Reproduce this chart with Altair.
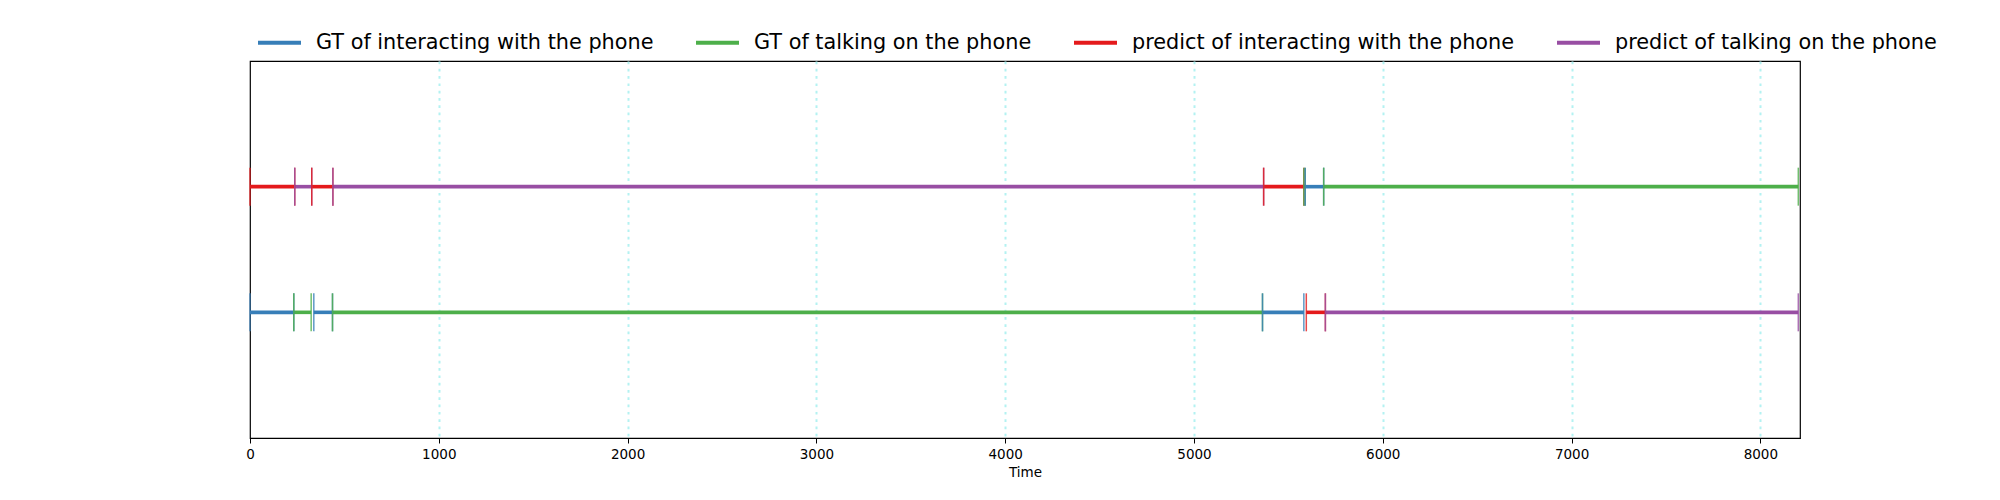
import altair as alt
import pandas as pd

labels = [
    "GT of interacting with the phone",
    "GT of talking on the phone",
    "predict of interacting with the phone",
    "predict of talking on the phone",
]
colors = ["#377eb8", "#4daf4a", "#e41a1c", "#984ea3"]

# segments: start frame, end frame, row (2 = upper, 1 = lower), label index
seg_start = [0, 237, 327, 439, 5369, 5582, 5589, 5687,
             0, 232, 338, 437, 5363, 5595, 5696]
seg_end = [237, 327, 439, 5369, 5582, 5589, 5687, 8201,
           232, 324, 437, 5363, 5582, 5696, 8201]
seg_row = [2, 2, 2, 2, 2, 2, 2, 2,
           1, 1, 1, 1, 1, 1, 1]
seg_label = [2, 3, 2, 3, 2, 1, 0, 1,
             0, 1, 0, 1, 0, 2, 3]

x_ticks = [0, 1000, 2000, 3000, 4000, 5000, 6000, 7000, 8000]
x_max = 8210

df = pd.DataFrame({
    "start": seg_start,
    "end": seg_end,
    "row": seg_row,
    "label": [labels[i] for i in seg_label],
})

xscale = alt.Scale(domain=[0, x_max], nice=False, zero=False)
yscale = alt.Scale(domain=[0, 3], nice=False)
xaxis = alt.Axis(
    values=x_ticks,
    title="Time",
    format="d",
    labelFlush=False,
    gridOpacity={"condition": {"test": "datum.value === 0", "value": 0}, "value": 1},
)

color = alt.Color(
    "label:N",
    scale=alt.Scale(domain=labels, range=colors),
    legend=alt.Legend(
        title=None,
        orient="none",
        direction="horizontal",
        columns=4,
        legendX=6,
        legendY=-42,
        symbolType="stroke",
        symbolSize=1849,
        symbolStrokeWidth=4,
        symbolOpacity=1,
        labelFontSize=20.8,
        labelFont="DejaVu Sans",
        labelColor="black",
        labelOffset=13,
        columnPadding=34,
        labelLimit=0,
    ),
)

base = alt.Chart(df)

lines = base.mark_rule(strokeWidth=3.6, strokeCap="butt").encode(
    x=alt.X("start:Q", scale=xscale, axis=xaxis),
    x2="end:Q",
    y=alt.Y("row:Q", scale=yscale, axis=None),
    color=color,
)

ticks = base.transform_fold(["start", "end"], as_=["edge", "t"]).mark_tick(
    orient="vertical", size=38, thickness=1.5, opacity=0.8
).encode(
    x=alt.X("t:Q", scale=xscale, axis=xaxis),
    y=alt.Y("row:Q", scale=yscale, axis=None),
    color=color,
)

chart = (
    alt.layer(lines, ticks)
    .properties(
        width=1550,
        height=377,
        padding={"left": 242, "top": 53, "right": 180, "bottom": 60},
        autosize=alt.AutoSizeParams(type="none"),
    )
    .configure_view(stroke="black", strokeWidth=1.2)
    .configure_axis(
        labelFont="DejaVu Sans",
        labelFontSize=13.5,
        labelColor="black",
        tickColor="black",
        tickSize=5,
        domainColor="black",
        titleFont="DejaVu Sans",
        titleFontSize=13.5,
        titleFontWeight="normal",
        titleColor="black",
        labelPadding=4,
        titlePadding=5,
        grid=True,
        gridColor="#b3f2f2",
        gridDash=[2.7, 4.6],
        gridWidth=2,
    )
)

chart.save("out.html", embed_options={"renderer": "svg", "actions": False})
